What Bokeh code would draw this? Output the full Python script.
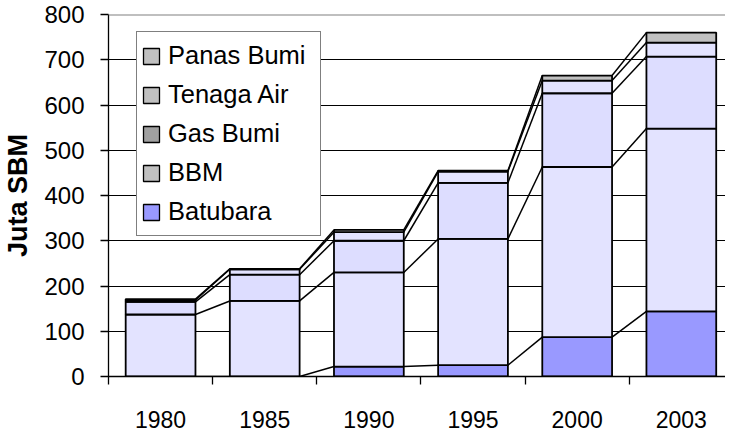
import numpy as np
from bokeh.plotting import figure
from bokeh.models import Range1d, FixedTicker, Legend, LegendItem, Span
from bokeh.embed import file_html
from bokeh.resources import INLINE

years = ["1980", "1985", "1990", "1995", "2000", "2003"]
batubara = [0, 0, 22, 25, 87, 144]
bbm = [137, 167, 208, 279, 376, 404]
gas_bumi = [28, 58, 70, 124, 163, 159]
tenaga_air = [4, 12, 19, 25, 28, 31]
panas_bumi = [2, 1, 5, 2, 11, 22]

series_names = ["Batubara", "BBM", "Gas Bumi", "Tenaga Air", "Panas Bumi"]
series_vals = [batubara, bbm, gas_bumi, tenaga_air, panas_bumi]
bar_colors = ["#9999FF", "#E3E3FF", "#DDDDFF", "#E3E3FF", "#C0C0C0"]
legend_colors = ["#9999FF", "#C0C0C0", "#A0A0A0", "#C0C0C0", "#C0C0C0"]
y_ticks = [0, 100, 200, 300, 400, 500, 600, 700, 800]

FONT = "Liberation Sans"
BAR_W = 0.67
n = len(years)
xs = np.arange(n) + 0.5

p = figure(width=725, height=433, output_backend="svg", toolbar_location=None,
           x_range=Range1d(0, 625 / 105.5), y_range=Range1d(0, 800),
           min_border_left=100, min_border_right=0, min_border_top=14,
           min_border_bottom=57)
p.outline_line_color = None
p.background_fill_color = "white"
p.border_fill_color = "white"

cum = np.cumsum(np.array(series_vals, dtype=float), axis=0)
bottoms = np.vstack([np.zeros(n), cum[:-1]])

# series lines
for k in range(len(series_names)):
    p.segment(x0=xs[:-1] + BAR_W / 2, y0=cum[k][:-1], x1=xs[1:] - BAR_W / 2,
              y1=cum[k][1:], line_color="black", line_width=1.5)

for k, name in enumerate(series_names):
    p.vbar(x=xs, bottom=bottoms[k], top=cum[k], width=BAR_W,
           fill_color=bar_colors[k], line_color="black", line_width=1.8)

# legend-only renderers (placed outside the visible x range)
items = []
for k in reversed(range(len(series_names))):
    r = p.vbar(x=[-10], bottom=[0], top=[1], width=BAR_W,
               fill_color=legend_colors[k], line_color="black", line_width=1.3)
    items.append(LegendItem(label=series_names[k], renderers=[r]))

legend = Legend(items=items, location=(28, 140), border_line_color="black",
                border_line_width=1.3, background_fill_color="white",
                background_fill_alpha=1, label_text_font=FONT,
                label_text_font_size="25.5px", label_text_color="black",
                glyph_width=20, glyph_height=20, label_height=39, spacing=0,
                padding=4, label_standoff=7, label_width=148, margin=0)
p.add_layout(legend, "center")

# grid
p.xgrid.visible = False
p.ygrid.ticker = FixedTicker(ticks=y_ticks[1:-1])
p.ygrid.grid_line_color = "black"
p.ygrid.grid_line_width = 1
p.add_layout(Span(location=800, dimension="width", line_color="#808080", line_width=2))

# y axis
p.yaxis.ticker = FixedTicker(ticks=y_ticks)
p.yaxis.axis_line_color = "black"
p.yaxis.axis_line_width = 1.3
p.yaxis.major_tick_in = 0
p.yaxis.major_tick_out = 8
p.yaxis.major_tick_line_width = 1.3
p.yaxis.minor_tick_line_color = None
p.yaxis.major_label_text_font = FONT
p.yaxis.major_label_text_font_size = "24px"
p.yaxis.major_label_text_color = "black"
p.yaxis.major_label_standoff = 16
p.yaxis.axis_label = "Juta SBM"
p.yaxis.axis_label_text_font = FONT
p.yaxis.axis_label_text_font_size = "27px"
p.yaxis.axis_label_text_font_style = "bold"
p.yaxis.axis_label_text_color = "black"
p.yaxis.axis_label_standoff = 8

# x axis
p.xaxis.ticker = FixedTicker(ticks=list(xs), minor_ticks=list(range(n + 1)))
p.xaxis.major_label_overrides = {float(x): y for x, y in zip(xs, years)}
p.xaxis.axis_line_color = "black"
p.xaxis.axis_line_width = 1.3
p.xaxis.major_tick_line_color = None
p.xaxis.minor_tick_in = 0
p.xaxis.minor_tick_out = 8
p.xaxis.minor_tick_line_color = "black"
p.xaxis.minor_tick_line_width = 1.3
p.xaxis.major_label_text_font = FONT
p.xaxis.major_label_text_font_size = "23px"
p.xaxis.major_label_text_color = "black"
p.xaxis.major_label_standoff = 26

open("out.html", "w").write(file_html(p, INLINE))
